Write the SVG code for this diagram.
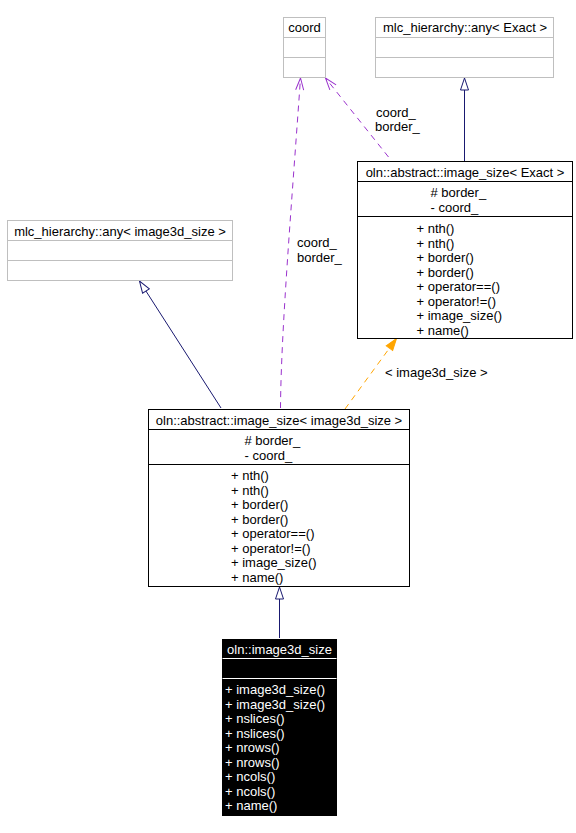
<svg xmlns="http://www.w3.org/2000/svg" width="576" height="833" viewBox="0 0 576 833">
<defs>
<style>
text{font-family:"Liberation Sans",Arial,sans-serif;font-size:13px;fill:#000}
.g{fill:#fff;stroke:#bfbfbf;stroke-width:1}
.b{fill:#fff;stroke:#000;stroke-width:1}
.k{fill:#000;stroke:#000;stroke-width:1}
.w text{fill:#fff}
.c{text-anchor:middle}
.inh{fill:none;stroke:#191970;stroke-width:1}
.use{fill:none;stroke:#9a32cd;stroke-width:1;stroke-dasharray:6,5}
.tpl{fill:none;stroke:#ffa500;stroke-width:1;stroke-dasharray:6,5}
</style>
<marker id="tri" viewBox="0 0 14 10" refX="13" refY="5" markerWidth="14" markerHeight="10" markerUnits="userSpaceOnUse" orient="auto">
<path d="M1,1 L13,5 L1,9 Z" fill="#fff" stroke="#191970" stroke-width="1"/>
</marker>
<marker id="open" viewBox="0 0 14 10" refX="13" refY="5" markerWidth="14" markerHeight="10" markerUnits="userSpaceOnUse" orient="auto">
<path d="M1,1 L13,5 L1,9" fill="none" stroke="#9a32cd" stroke-width="1"/>
</marker>
<marker id="fill" viewBox="0 0 14 10" refX="13" refY="5" markerWidth="14" markerHeight="10" markerUnits="userSpaceOnUse" orient="auto">
<path d="M1,1 L13,5 L1,9 Z" fill="#ffa500" stroke="#ffa500" stroke-width="1"/>
</marker>
</defs>
<rect width="576" height="833" fill="#fff"/>

<g id="connectors">
<path class="use" d="M280.5,408 C281,330 292,200 300.5,78" marker-end="url(#open)"/>
<text x="297" y="247">coord_</text>
<text x="297" y="262">border_</text>
<path class="use" d="M388.5,157 L325.5,78" marker-end="url(#open)"/>
<text x="376" y="117">coord_</text>
<text x="375" y="131">border_</text>
<path class="inh" d="M464.5,161 L464.5,78" marker-end="url(#tri)"/>
<path class="inh" d="M221,408 L139.5,281" marker-end="url(#tri)"/>
<path class="tpl" d="M345,409 L396.5,338.5" marker-end="url(#fill)"/>
<text x="385" y="377">&lt; image3d_size &gt;</text>
<path class="inh" d="M279.5,638 L279.5,587" marker-end="url(#tri)"/>
</g>

<g id="coord">
<rect class="g" x="283.5" y="17.5" width="42" height="60"/>
<line class="g" x1="283.5" y1="37.5" x2="325.5" y2="37.5"/>
<line class="g" x1="283.5" y1="57.5" x2="325.5" y2="57.5"/>
<text class="c" x="304.5" y="32">coord</text>
</g>

<g id="any_exact">
<rect class="g" x="375.5" y="17.5" width="178" height="60"/>
<line class="g" x1="375.5" y1="37.5" x2="553.5" y2="37.5"/>
<line class="g" x1="375.5" y1="57.5" x2="553.5" y2="57.5"/>
<text class="c" x="465" y="32">mlc_hierarchy::any&lt; Exact &gt;</text>
</g>

<g id="image_size_exact">
<rect class="b" x="357.5" y="161.5" width="215" height="177"/>
<line class="b" x1="357.5" y1="181.5" x2="572.5" y2="181.5"/>
<line class="b" x1="357.5" y1="216.5" x2="572.5" y2="216.5"/>
<text class="c" x="465" y="177">oln::abstract::image_size&lt; Exact &gt;</text>
<text x="430.5" y="197">#  border_</text>
<text x="430.5" y="212">-  coord_</text>
<text x="416.5" y="233">+ nth()</text>
<text x="416.5" y="247.5">+ nth()</text>
<text x="416.5" y="262">+ border()</text>
<text x="416.5" y="276.5">+ border()</text>
<text x="416.5" y="291">+ operator==()</text>
<text x="416.5" y="305.5">+ operator!=()</text>
<text x="416.5" y="320">+ image_size()</text>
<text x="416.5" y="334.5">+ name()</text>
</g>

<g id="any_image3d">
<rect class="g" x="7.5" y="220.5" width="225" height="60"/>
<line class="g" x1="7.5" y1="240.5" x2="232.5" y2="240.5"/>
<line class="g" x1="7.5" y1="260.5" x2="232.5" y2="260.5"/>
<text class="c" x="120" y="236">mlc_hierarchy::any&lt; image3d_size &gt;</text>
</g>

<g id="image_size_image3d">
<rect class="b" x="148.5" y="409.5" width="261" height="177"/>
<line class="b" x1="148.5" y1="429.5" x2="409.5" y2="429.5"/>
<line class="b" x1="148.5" y1="464.5" x2="409.5" y2="464.5"/>
<text class="c" x="279" y="425">oln::abstract::image_size&lt; image3d_size &gt;</text>
<text x="244.5" y="445">#  border_</text>
<text x="244.5" y="460">-  coord_</text>
<text x="231" y="480">+ nth()</text>
<text x="231" y="494.5">+ nth()</text>
<text x="231" y="509">+ border()</text>
<text x="231" y="523.5">+ border()</text>
<text x="231" y="538">+ operator==()</text>
<text x="231" y="552.5">+ operator!=()</text>
<text x="231" y="567">+ image_size()</text>
<text x="231" y="581.5">+ name()</text>
</g>

<g id="image3d_size" class="w">
<rect class="k" x="222.5" y="639.5" width="114" height="176"/>
<line x1="222.5" y1="658.5" x2="336.5" y2="658.5" stroke="#fff"/>
<line x1="222.5" y1="678.5" x2="336.5" y2="678.5" stroke="#fff"/>
<text class="c" x="279.5" y="654">oln::image3d_size</text>
<text x="225" y="694">+ image3d_size()</text>
<text x="225" y="708.5">+ image3d_size()</text>
<text x="225" y="723">+ nslices()</text>
<text x="225" y="737.5">+ nslices()</text>
<text x="225" y="752">+ nrows()</text>
<text x="225" y="766.5">+ nrows()</text>
<text x="225" y="781">+ ncols()</text>
<text x="225" y="795.5">+ ncols()</text>
<text x="225" y="810">+ name()</text>
</g>
</svg>
